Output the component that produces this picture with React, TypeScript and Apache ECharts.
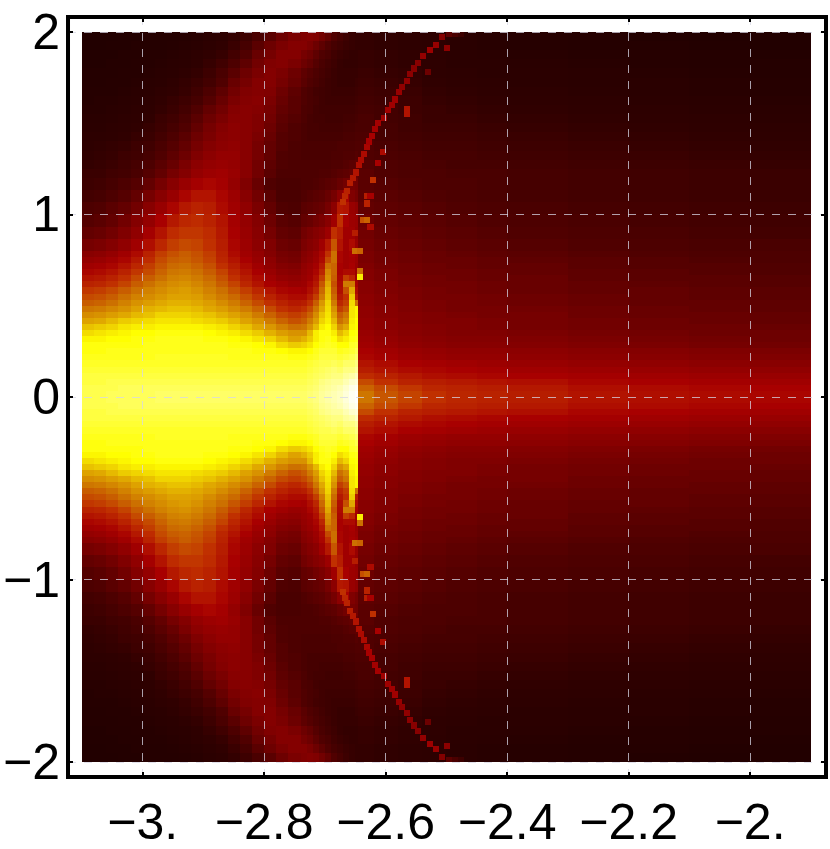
import React, { useEffect, useRef } from "react";
import * as echarts from "echarts";

const xTicks = [-3, -2.8, -2.6, -2.4, -2.2, -2];
const xTickLabels = ["\u22123.", "\u22122.8", "\u22122.6", "\u22122.4", "\u22122.2", "\u22122."];
const yTicks = [-2, -1, 0, 1, 2];
const yTickLabels = ["\u22122", "\u22121", "0", "1", "2"];

// column edges, x
const xEdges = [
  -3.1, -3.08, -3.06, -3.04, -3.02, -3.0, -2.98, -2.96, -2.94, -2.92, -2.9, -2.88, -2.86, -2.84, -2.82, -2.8, -2.78, -2.76, -2.74,
  -2.73, -2.72, -2.71, -2.7, -2.69, -2.68, -2.67, -2.66, -2.65, -2.645,
  -2.62, -2.58, -2.54, -2.5, -2.45, -2.4, -2.3, -2.2, -2.1, -2.0, -1.9,
];
// row edges, y (the picture mirrors around y = 0)
const yEdges = [
  0, 0.0333, 0.0667, 0.1, 0.1333, 0.1667, 0.2, 0.2333, 0.2667, 0.3, 0.3333, 0.3667, 0.4, 0.4333, 0.4667, 0.5, 0.5333, 0.5667, 0.6, 0.6333, 0.6667, 0.7, 0.7333, 0.7667, 0.8,
  0.8667, 0.9333, 1.0, 1.0667, 1.1333, 1.2,
  1.25, 1.3, 1.35, 1.4, 1.45, 1.5, 1.55, 1.6, 1.65, 1.7, 1.75, 1.8, 1.85, 1.9, 1.95, 2.0,
];

const cellValues = [
  [86,86,87,87,87,87,88,88,88,88,88,88,88,88,88,88,88,88, 88,89,90,92,93,94,95,97,99,100, 61,56,53,50,48,47,46,44,43,42,41],
  [86,86,86,87,87,87,87,87,87,87,87,87,87,87,87,87,87,87, 87,88,89,91,92,93,94,96,98,99, 58,54,51,48,47,46,45,43,42,41,40],
  [85,85,86,86,86,86,86,86,86,86,86,86,86,86,86,86,86,86, 86,87,88,90,91,92,92,94,96,97, 54,50,47,46,45,44,43,41,40,39,38],
  [85,85,85,85,85,85,85,85,85,85,85,85,85,85,85,85,85,85, 85,86,87,88,89,90,90,92,93,95, 49,47,45,43,42,41,40,39,38,37,36],
  [84,84,84,84,84,84,84,84,84,84,84,84,84,84,84,84,84,84, 84,85,86,87,88,89,88,90,90,92, 46,44,42,41,40,39,38,37,36,35,34],
  [83,83,83,83,83,83,83,83,83,83,83,83,83,83,83,83,83,83, 83,84,85,86,86,87,86,88,88,90, 44,42,40,39,38,37,36,35,34,33,32],
  [82,82,82,82,82,82,83,83,83,83,83,83,82,82,82,82,82,81, 81,82,83,85,85,85,84,85,86,88, 41,39,37,36,35,35,34,33,32,31,30],
  [81,81,82,82,82,82,82,82,82,82,82,82,82,82,81,81,80,79, 79,80,82,84,84,84,82,83,84,86, 40,38,36,35,34,34,33,32,31,30,29],
  [81,81,81,81,81,82,82,82,82,82,82,82,81,81,80,79,76,74, 75,77,80,82,83,82,80,80,83,84, 38,36,34,33,32,32,31,30,29,28,27],
  [79,79,80,80,81,81,82,82,82,82,81,81,80,79,77,75,72,69, 71,74,78,81,82,80,76,78,81,82, 37,35,33,32,31,31,30,29,28,27,26],
  [76,77,78,79,80,80,81,81,81,81,80,79,78,76,74,71,68,66, 66,72,78,81,81,78,72,75,80,81, 36,34,32,31,30,30,29,28,27,26,26],
  [73,74,75,77,78,78,79,79,79,79,78,77,75,73,70,67,63,60, 61,66,72,78,80,75,66,70,79,80, 35,33,32,31,30,29,28,27,26,26,25],
  [69,70,72,74,75,76,77,77,77,76,75,74,72,69,66,62,58,55, 57,62,68,75,78,72,60,64,78,80, 35,33,31,30,30,29,28,27,26,25,24],
  [65,66,68,70,72,73,75,75,75,74,73,71,69,66,62,58,54,52, 54,58,65,73,77,69,57,61,77,79, 34,32,31,30,29,28,28,26,25,25,24],
  [61,62,64,66,69,71,72,73,73,72,70,68,65,62,58,54,50,48, 50,54,61,70,76,66,52,56,77,79, 34,32,30,29,28,28,27,26,25,24,23],
  [57,58,60,63,66,68,70,71,71,70,68,65,62,58,54,50,47,45, 46,50,57,67,75,62,48,52,76,60, 33,31,30,29,28,27,26,25,24,24,23],
  [54,55,57,60,63,65,67,69,69,68,65,62,59,55,51,47,44,42, 42,46,52,62,73,59,45,50,74,45, 33,31,29,28,28,27,26,25,24,23,22],
  [51,52,54,57,60,63,65,67,68,66,63,60,56,52,48,44,41,40, 39,43,48,59,72,57,43,55,70,42, 32,30,29,28,27,26,25,24,24,23,22],
  [47,48,50,53,57,60,63,65,66,64,61,57,53,48,44,40,38,36, 37,41,45,56,70,55,42,62,62,40, 32,30,28,27,27,26,25,24,23,22,21],
  [44,45,47,50,54,57,60,63,64,62,59,55,50,46,42,38,35,34, 36,38,43,52,66,57,41,52,48,38, 31,29,28,27,26,25,25,23,22,22,21],
  [41,42,44,47,51,54,58,61,62,60,57,53,48,44,40,36,33,32, 35,37,41,48,64,58,40,42,42,37, 31,29,27,26,26,25,24,23,22,21,20],
  [38,39,41,44,48,52,56,59,60,58,55,50,46,42,38,34,31,30, 34,36,39,45,60,58,40,38,40,36, 30,28,27,26,25,24,24,22,21,21,20],
  [35,36,38,41,45,49,54,57,58,56,53,48,44,40,36,33,29,28, 32,34,37,42,54,60,41,38,39,37, 29,27,26,25,25,24,23,22,21,20,19],
  [32,33,35,38,42,47,52,55,57,55,52,47,42,38,35,31,28,27, 31,33,36,41,50,60,41,38,40,38, 29,27,26,25,24,23,22,21,20,19,19],
  [28,29,31,34,38,43,48,52,54,53,50,46,41,37,33,30,26,25, 29,31,33,38,45,56,44,38,42,36, 28,26,25,24,23,22,21,20,19,18,18],
  [24,25,27,30,34,39,44,49,51,51,49,45,40,36,32,28,24,23, 27,29,31,33,37,50,46,38,38,35, 27,25,24,23,22,21,20,19,18,17,16],
  [21,22,24,27,31,35,40,45,48,49,47,44,39,35,31,26,22,21, 24,25,27,29,32,38,50,40,37,36, 26,24,23,22,21,20,19,18,17,16,15],
  [19,20,22,24,27,32,36,41,45,47,46,42,38,34,29,24,20,19, 22,23,24,25,28,33,45,44,36,34, 24,23,22,21,20,19,18,17,16,15,14],
  [16,17,19,21,24,28,32,36,41,44,44,41,37,32,27,22,18,18, 20,21,22,23,25,28,33,40,30,28, 23,22,21,20,19,18,17,16,15,14,13],
  [14,15,17,19,21,24,28,32,36,39,41,39,35,30,25,20,18,18, 19,19,20,21,22,23,25,27,28,27, 22,21,20,19,19,18,17,16,15,14,13],
  [13,13,15,16,18,21,24,28,31,35,37,38,36,32,27,22,19,19, 19,19,19,20,20,21,22,23,24,25, 22,20,19,19,18,18,17,16,15,14,13],
  [11,12,13,15,17,19,22,25,29,33,35,36,35,32,27,23,20,19, 19,19,19,19,19,20,20,21,22,23, 21,20,19,18,17,17,16,15,14,13,12],
  [10,11,12,14,15,17,20,23,26,30,33,35,35,32,28,24,20,19, 18,18,18,18,18,19,19,20,20,21, 20,19,18,17,17,16,15,14,13,12,11],
  [9,10,11,12,14,15,18,21,24,28,31,33,34,32,28,24,21,19, 18,18,18,18,18,18,19,19,19,20, 20,18,17,16,16,15,14,13,12,11,10],
  [8,8,9,10,12,13,16,19,22,26,29,32,33,32,29,25,21,20, 18,17,17,17,17,17,17,18,18,19, 19,17,16,15,15,14,13,12,11,10,9],
  [7,7,8,9,10,12,14,17,20,24,28,31,33,32,30,26,22,20, 18,17,17,16,16,16,16,17,17,18, 18,17,15,14,14,13,12,11,10,9,8],
  [6,6,7,8,9,10,13,15,18,22,26,29,32,32,30,27,23,21, 19,17,16,16,15,15,15,16,16,17, 18,16,15,13,13,12,11,10,9,8,7],
  [5,5,6,7,8,9,11,13,16,20,24,27,31,32,31,28,24,22, 19,18,16,15,15,15,15,15,15,16, 17,16,14,13,12,11,10,9,8,7,6],
  [4,5,5,6,7,8,10,12,14,17,21,25,29,31,32,29,25,22, 20,18,17,15,14,14,14,14,14,15, 16,15,14,12,11,10,9,8,7,6,5],
  [4,4,4,5,6,7,9,10,12,15,19,23,27,30,31,30,26,23, 20,18,16,15,14,13,13,13,13,14, 15,14,13,11,10,9,8,7,6,5,4],
  [3,3,4,4,5,6,7,9,11,13,16,20,25,28,31,31,28,25, 22,20,18,16,14,13,12,12,12,13, 14,13,12,10,9,8,7,6,6,5,4],
  [3,3,3,4,4,5,6,7,9,11,14,18,22,26,29,31,29,26, 23,21,19,17,15,13,12,12,12,12, 13,12,11,9,8,7,7,6,5,4,3],
  [2,2,3,3,4,4,5,6,7,9,12,15,19,23,27,30,31,29, 26,24,21,18,16,14,12,11,11,11, 12,11,10,9,7,7,6,5,4,3,3],
  [2,2,2,3,3,4,4,5,6,8,10,12,16,20,25,28,31,31, 28,26,23,20,18,15,13,12,11,11, 12,11,10,8,7,6,5,4,4,3,2],
  [1,1,2,2,3,3,3,4,5,6,8,10,13,17,22,26,29,31, 31,29,26,23,20,17,15,13,12,11, 11,10,9,8,6,5,4,3,3,2,1],
  [1,1,1,2,2,3,3,3,4,5,7,8,11,14,18,22,26,29, 30,31,30,27,24,20,17,14,12,11, 11,10,9,8,6,5,4,3,2,1,1],
];

// thin outer arc: [x, y, value]
const thinArc = [
  [-2.67,1.07,50],[-2.667,1.1,48],[-2.664,1.13,47],[-2.659,1.17,46],[-2.654,1.2,45],[-2.649,1.23,44],[-2.644,1.27,43],[-2.641,1.3,42],
  [-2.636,1.33,42],[-2.631,1.37,41],[-2.628,1.4,40],[-2.623,1.43,40],[-2.618,1.47,39],[-2.613,1.5,39],[-2.603,1.53,38],[-2.596,1.57,38],
  [-2.59,1.6,38],[-2.585,1.63,38],[-2.578,1.67,36],[-2.573,1.7,34],[-2.565,1.73,34],[-2.56,1.77,33],[-2.553,1.8,32],[-2.547,1.83,32],
  [-2.539,1.87,35],[-2.527,1.9,37],[-2.517,1.93,36],[-2.507,1.97,31],[-2.496,1.99,22],[-2.486,1.99,18],[-2.476,1.99,14],
];
// isolated bright cells inside the arc: [x, y, value]
const speckles = [
  [-2.565,1.58,44],[-2.565,1.55,44],[-2.499,1.91,33],[-2.53,1.78,26],[-2.605,1.34,42],[-2.613,1.28,40],[-2.621,1.19,50],[-2.631,1.1,46],
  [-2.625,1.1,40],[-2.631,1.06,47],[-2.637,0.97,55],[-2.63,0.97,58],[-2.65,0.8,60],[-2.642,0.8,58],[-2.642,0.66,78],[-2.642,0.69,60],
  [-2.625,0.93,42],[-2.65,0.9,46],
];

const cellHalfW = 0.005;
const cellHalfH = 1 / 60;

function buildCells() {
  const out: number[][] = [];
  cellValues.forEach((row, r) => {
    row.forEach((v, c) => {
      const x0 = xEdges[c], x1 = xEdges[c + 1], y0 = yEdges[r], y1 = yEdges[r + 1];
      out.push([x0, x1, y0, y1, v]);
      out.push([x0, x1, -y1, -y0, v]);
    });
  });
  [...thinArc, ...speckles].forEach(([x, y, v]) => {
    const top = Math.min(y + cellHalfH, 2);
    out.push([x - cellHalfW, x + cellHalfW, y - cellHalfH, top, v]);
    out.push([x - cellHalfW, x + cellHalfW, -top, -y + cellHalfH, v]);
  });
  return out;
}

const xMin = -3.123, xMax = -1.875, yMin = -2.082, yMax = 2.082;
const labelFont = { color: "#000", fontSize: 50, fontFamily: "Liberation Sans" };
const tickStyle = { show: true, inside: true, length: 5, lineStyle: { color: "#000", width: 2 } };
const gridLine = { show: true, lineStyle: { color: "rgba(215,215,230,0.75)", width: 1, type: [8, 8] as number[] } };

export default function App() {
  const ref = useRef<HTMLDivElement>(null);
  useEffect(() => {
    document.body.style.margin = "0";
    const chart = echarts.init(ref.current!, undefined, { renderer: "svg" });
    chart.setOption({
      animation: false,
      backgroundColor: "#fff",
      grid: { left: 68, top: 17, width: 758, height: 760, show: true, borderColor: "#000", borderWidth: 4, backgroundColor: "#fff" },
      visualMap: {
        show: false, min: 0, max: 100, dimension: 4, seriesIndex: 0,
        inRange: { color: ["#200000", "#300000", "#500000", "#800000", "#a80000", "#c03000", "#cc7000", "#e0a800", "#ffff00", "#ffff80", "#ffffff"] },
      },
      xAxis: [
        {
          type: "value", min: xMin, max: xMax, z: 5, position: "bottom",
          axisLine: { show: false, onZero: false },
          axisTick: { ...tickStyle, customValues: xTicks },
          axisLabel: { ...labelFont, margin: 20, customValues: xTicks, formatter: (v: number) => xTickLabels[xTicks.indexOf(v)] },
          splitLine: gridLine,
        },
        {
          type: "value", min: xMin, max: xMax, z: 5, position: "top",
          axisLine: { show: false, onZero: false },
          axisTick: { ...tickStyle, customValues: xTicks },
          axisLabel: { show: false },
          splitLine: { show: false },
        },
      ],
      yAxis: [
        {
          type: "value", min: yMin, max: yMax, z: 5, position: "left",
          axisLine: { show: false, onZero: false },
          axisTick: { ...tickStyle, customValues: yTicks },
          axisLabel: { ...labelFont, margin: 8, customValues: yTicks, formatter: (v: number) => yTickLabels[yTicks.indexOf(v)] },
          splitLine: gridLine,
        },
        {
          type: "value", min: yMin, max: yMax, z: 5, position: "right",
          axisLine: { show: false, onZero: false },
          axisTick: { ...tickStyle, customValues: yTicks },
          axisLabel: { show: false },
          splitLine: { show: false },
        },
      ],
      series: [
        {
          type: "custom",
          coordinateSystem: "cartesian2d",
          xAxisIndex: 0,
          yAxisIndex: 0,
          z: 2,
          silent: true,
          dimensions: ["x0", "x1", "y0", "y1", "v"],
          encode: { x: [0, 1], y: [2, 3] },
          data: buildCells(),
          renderItem: (_: any, api: any) => {
            const a = api.coord([api.value(0), api.value(3)]);
            const b = api.coord([api.value(1), api.value(2)]);
            const left = Math.round(a[0]), top = Math.round(a[1]);
            return {
              type: "rect",
              shape: { x: left, y: top, width: Math.round(b[0]) - left, height: Math.round(b[1]) - top },
              style: { fill: api.visual("color") },
            };
          },
        },
      ],
    });
    return () => chart.dispose();
  }, []);
  return <div ref={ref} style={{ width: 830, height: 849 }} />;
}
